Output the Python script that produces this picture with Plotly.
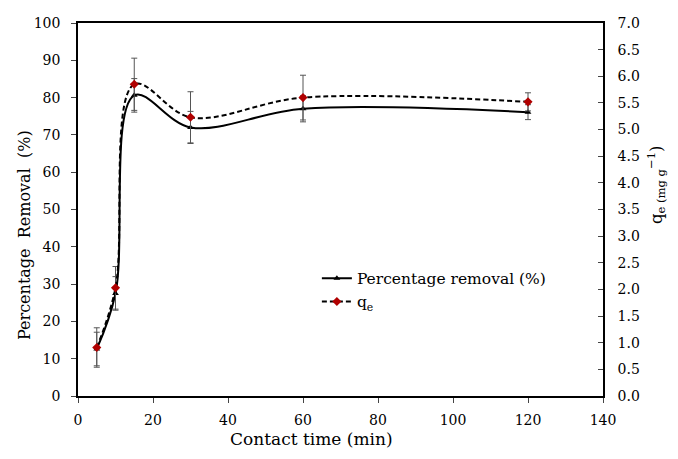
import plotly.graph_objects as go

time_min = [5, 10, 15, 30, 60, 120]
removal = [12.6, 27.5, 80.6, 72.0, 77.0, 76.1]
removal_err = [4.5, 4.5, 4.5, 4.3, 3.5, 2.0]
qe = [0.91, 2.03, 5.85, 5.23, 5.6, 5.52]
qe_err = [0.37, 0.40, 0.49, 0.48, 0.42, 0.17]

x_ticks = [0, 20, 40, 60, 80, 100, 120, 140]
y_ticks = list(range(0, 101, 10))
y2_ticks = [i * 0.5 for i in range(15)]

FONT = "DejaVu Serif"
ML, MR, MT, MB = 78, 75, 23, 63
W, H = 678, 459

fig = go.Figure()
fig.add_trace(go.Scatter(
    x=time_min, y=removal, name="Percentage removal (%)",
    mode="lines+markers",
    line=dict(color="black", width=2, shape="spline", smoothing=1.0),
    marker=dict(symbol="triangle-up", size=6, color="black"),
    error_y=dict(type="data", array=removal_err, color="#555", thickness=1, width=3),
))
fig.add_trace(go.Scatter(
    x=time_min, y=qe, name="q<sub>e</sub>", yaxis="y2",
    mode="lines+markers",
    line=dict(color="black", width=2, dash="5px,3px", shape="spline", smoothing=1.0),
    marker=dict(symbol="diamond", size=7, color="#b00000"),
    error_y=dict(type="data", array=qe_err, color="#555", thickness=1, width=3),
))

pw, ph = W - ML - MR, H - MT - MB


def px2paper(px, py):
    return (px - ML) / pw, (H - MB - py) / ph


anns = []
for text, px, py, angle, size in [
    ("Contact time (min)", 311, 439, 0, 17),
    ("Percentage  Removal  (%)", 25, 235, -90, 16),
    ("q<sub>e (mg g</sub><sup>−1</sup>)", 656, 185, -90, 16.5),
]:
    x, y = px2paper(px, py)
    anns.append(dict(text=text, x=x, y=y, xref="paper", yref="paper",
                     xanchor="center", yanchor="middle", textangle=angle,
                     showarrow=False, font=dict(size=size)))

fig.update_layout(
    width=W, height=H,
    margin=dict(l=ML, r=MR, t=MT, b=MB),
    paper_bgcolor="white", plot_bgcolor="white",
    font=dict(family=FONT, size=14, color="black"),
    showlegend=True,
    legend=dict(x=0.455, y=0.36, xanchor="left", yanchor="top",
                bgcolor="rgba(0,0,0,0)", font=dict(size=15.5),
                itemwidth=30, tracegroupgap=2),
    xaxis=dict(range=[0, 140], tickvals=x_ticks, ticks="outside", ticklen=5,
               ticklabelstandoff=5,
               showline=True, linecolor="black", linewidth=1.5, mirror=True,
               showgrid=False, zeroline=False),
    yaxis=dict(range=[0, 100], tickvals=y_ticks, ticks="outside", ticklen=5,
               ticklabelstandoff=8,
               showline=True, linecolor="black", linewidth=1.5,
               showgrid=False, zeroline=False),
    yaxis2=dict(range=[0, 7], tickvals=y2_ticks, tickformat=".1f",
                overlaying="y", side="right", ticks="inside", ticklen=5,
                ticklabelstandoff=10,
                showline=True, linecolor="black", linewidth=1.5,
                showgrid=False, zeroline=False),
    annotations=anns,
)

fig.write_html("out.html")
